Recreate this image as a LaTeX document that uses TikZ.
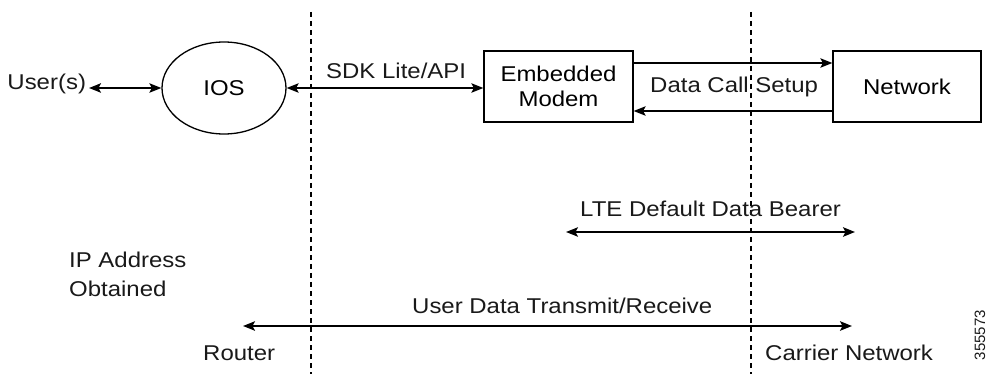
\documentclass[tikz,border=0pt]{standalone}
\usepackage{fontspec}
\setmainfont{Liberation Sans}[FakeStretch=1.12]
\newfontfamily\idfont{Liberation Sans}
\usetikzlibrary{arrows.meta,shapes.geometric}
\begin{document}
\begin{tikzpicture}[x=1pt,y=-1pt,
  lab/.style={font=\fontsize{21.4}{25}\selectfont, inner sep=0pt, text=black!90},
  conn/.style={line width=1.3pt, -{Stealth[length=12pt,width=9.5pt,inset=2.5pt]}},
  biconn/.style={line width=1.3pt, {Stealth[length=12pt,width=9.5pt,inset=2.5pt]}-{Stealth[length=12pt,width=9.5pt,inset=2.5pt]}},
  box/.style={draw, line width=1.3pt, minimum width=149pt, minimum height=71pt, inner sep=0pt, align=center, font=\fontsize{21.4}{25}\selectfont},
  oval/.style={draw, ellipse, line width=1.3pt, minimum width=124pt, minimum height=92pt, inner sep=0pt, font=\fontsize{21.4}{25}\selectfont},
  divider/.style={line width=1.1pt, dash pattern=on 5pt off 4pt}]
\useasboundingbox (0,0) rectangle (988,374);

% dividers
\coordinate (d1t) at (311,12);
\coordinate (d1b) at (311,374);
\coordinate (d2t) at (751,12);
\coordinate (d2b) at (751,374);
\draw[divider] (d1t) -- (d1b);
\draw[divider] (d2t) -- (d2b);

% top row
\node[lab, anchor=base east, outer sep=3pt] (users) at (89,90) {User(s)};
\node[oval] (ios) at (224,88) {IOS};
\node[box] (modem) at (558.5,86.5) {Embedded\\Modem};
\node[box, minimum width=148pt] (network) at (907,86.5) {Network};

\draw[biconn] (users.east |- ios.center) -- (ios.west);
\draw[biconn] (ios.east) -- (ios.east -| modem.west);
\node[lab, anchor=base west] (sdk) at (326,79) {SDK Lite/API};

\coordinate (uy) at (0,63);
\coordinate (ly) at (0,111);
\draw[conn] (modem.east |- uy) -- (network.west |- uy);
\draw[conn] (network.west |- ly) -- (modem.east |- ly);
\node[lab, anchor=base west] (dcs) at (650,93) {Data Call Setup};

% LTE bearer
\node[lab, anchor=base west] (lte) at (580,217) {LTE Default Data Bearer};
\coordinate (lteL) at (566,232);
\coordinate (lteR) at (855,232);
\draw[biconn] (lteL) -- (lteR);

% IP address
\node[lab, anchor=base west] (ip1) at (69,267) {IP Address};
\node[lab, anchor=base west] (ip2) at (69,296) {Obtained};

% user data
\node[lab, anchor=base west] (ud) at (412,313) {User Data Transmit/Receive};
\coordinate (udL) at (243,326);
\coordinate (udR) at (852,326);
\draw[biconn] (udL) -- (udR);

\node[lab, anchor=base west] (router) at (203,360) {Router};
\node[lab, anchor=base west] (carrier) at (765,360) {Carrier Network};

\node[font=\idfont\fontsize{15}{15}\selectfont, inner sep=0pt, rotate=90, text=black!90] (fig) at (980,335) {355573};
\end{tikzpicture}
\end{document}
